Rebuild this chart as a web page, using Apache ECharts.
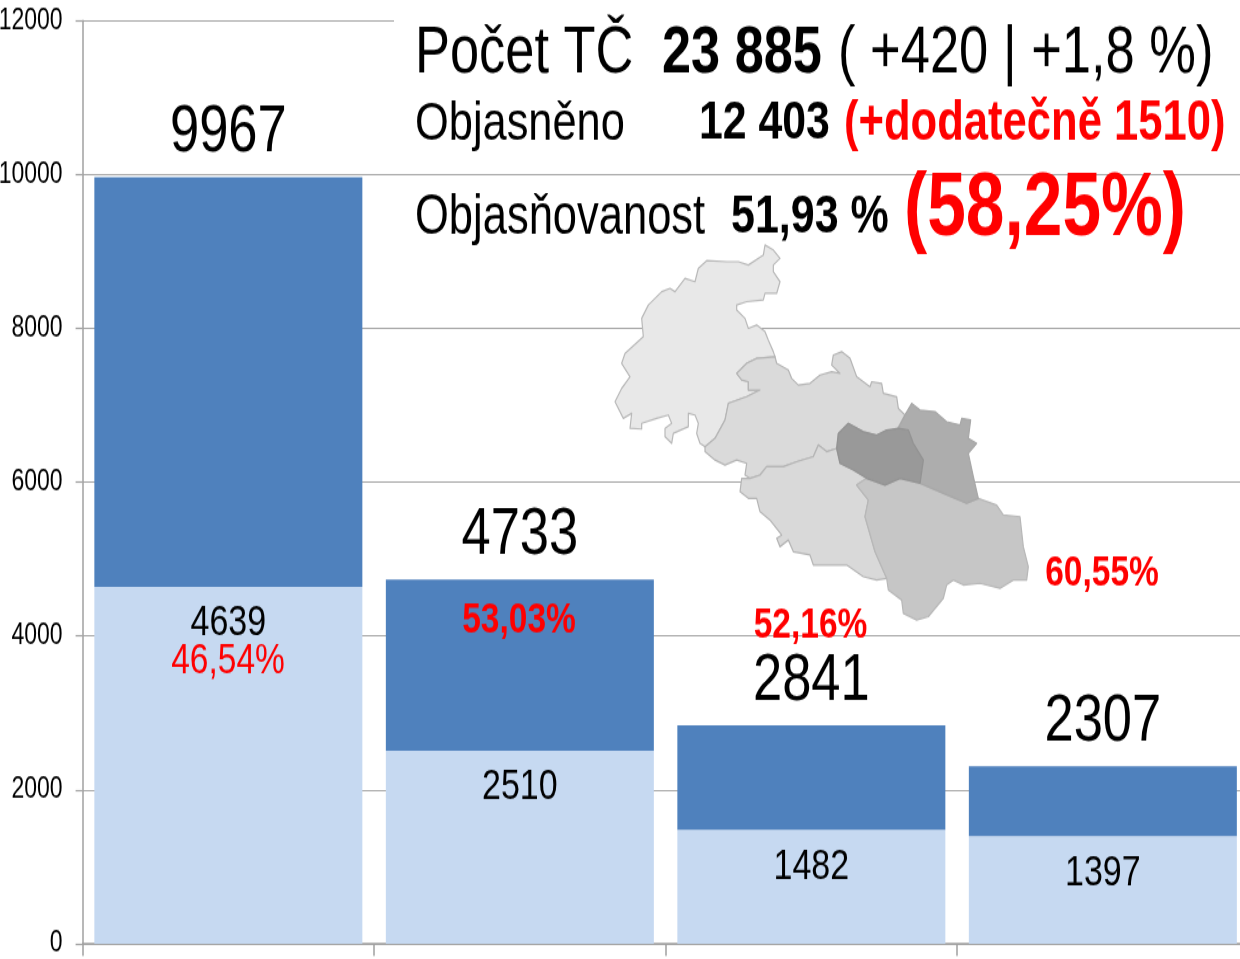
<!DOCTYPE html>
<html><head><meta charset="utf-8">
<style>html,body{margin:0;padding:0;background:#fff;overflow:hidden;width:1240px;height:959px}
#c{width:1240px;height:755px;transform:scaleY(1.2702);transform-origin:0 0}</style>
<script src="https://cdn.jsdelivr.net/npm/echarts@6/dist/echarts.min.js"></script>
</head><body><div id="c"></div>
<script>
const categories = ['1', '2', '3', '4'];
const totals = [9967, 4733, 2841, 2307];
const explained = [4639, 2510, 1482, 1397];
const unexplained = [5328, 2223, 1359, 910];
const rates = ['46,54%', '53,03%', '52,16%', '60,55%'];
const yTicks = { min: 0, max: 12000, step: 2000 };

const S = 959 / 755;
const SANS = '"Liberation Sans",Arial,sans-serif';
const z = (pts) => pts.map(p => [600 + p[0] / 3, (230 + p[1] / 3) / S]);
const regionA = [[495,45],[520,60],[540,85],[520,105],[520,125],[540,155],[530,190],[495,190],[490,210],[440,215],[410,225],[410,240],[435,265],[445,295],[470,285],[495,305],[505,330],[520,365],[525,380],[470,385],[440,400],[410,430],[425,450],[445,455],[445,480],[480,480],[440,500],[385,520],[375,570],[345,625],[315,650],[300,640],[290,610],[295,580],[285,555],[265,550],[265,590],[220,610],[215,640],[195,620],[195,595],[215,580],[205,555],[170,565],[125,580],[125,597],[90,595],[95,550],[70,565],[45,515],[65,475],[90,440],[65,400],[75,370],[130,320],[125,265],[145,225],[185,185],[210,175],[225,185],[255,145],[285,155],[295,115],[320,92],[380,95],[415,95],[445,105],[490,75]];
const regionB = [[525,380],[530,400],[565,420],[575,445],[595,465],[630,460],[660,435],[695,425],[720,430],[695,405],[700,375],[725,365],[750,385],[770,440],[810,470],[815,455],[845,460],[850,490],[890,500],[895,535],[915,555],[890,600],[860,600],[830,615],[790,605],[745,580],[715,610],[710,655],[680,665],[655,645],[640,680],[590,695],[550,710],[500,710],[480,735],[450,745],[435,735],[440,700],[410,690],[375,705],[345,690],[315,665],[315,650],[345,625],[375,570],[385,520],[440,500],[480,480],[445,480],[445,455],[425,450],[410,430],[440,400],[470,385]];
const regionC = [[450,745],[480,735],[500,710],[550,710],[590,695],[640,680],[655,645],[680,665],[710,655],[720,700],[760,720],[800,745],[770,765],[805,810],[795,860],[825,965],[860,1045],[830,1050],[790,1040],[740,1005],[640,1005],[630,975],[580,965],[565,930],[540,950],[530,925],[545,915],[510,870],[480,845],[470,805],[445,805],[420,785],[425,745]];
const regionD = [[770,765],[800,745],[855,765],[900,745],[960,760],[1030,790],[1100,820],[1135,805],[1190,825],[1210,855],[1260,860],[1270,950],[1285,1010],[1280,1050],[1240,1050],[1200,1075],[1140,1060],[1090,1065],[1060,1050],[1040,1065],[1030,1105],[985,1160],[950,1170],[910,1150],[905,1110],[865,1080],[860,1045],[825,965],[795,860],[805,810]];
const regionE = [[935,520],[960,540],[1005,545],[1040,575],[1080,585],[1085,565],[1112,570],[1105,625],[1130,640],[1105,670],[1120,740],[1135,805],[1100,820],[1030,790],[960,760],[970,690],[940,640],[925,600],[895,595],[915,555]];
const regionF = [[745,580],[790,605],[830,615],[860,600],[895,595],[925,600],[940,640],[970,690],[960,760],[900,745],[855,765],[800,745],[760,720],[720,700],[710,655],[715,610]];

const poly = (pts, fill, stroke) => ({type:'polygon', shape:{points:z(pts)}, style:{fill, stroke, lineWidth:1.2, lineJoin:'round'}, silent:true});
const txt = (s, x, y, size, color, bold, align) => ({type:'text', x, y:y/S, silent:true, style:{text:s, fill:color, font:(bold?'bold ':'') + size + 'px ' + SANS, textAlign:align||'left', textVerticalAlign:'middle'}});

const chart = echarts.init(document.getElementById('c'), null, {renderer:'canvas', width:1240, height:755});
chart.setOption({
  animation:false,
  backgroundColor:'#fff',
  grid:{left:82.6, top:20.7/S, width:1166, height:923/S, containLabel:false, outerBoundsMode:'none'},
  xAxis:{type:'category', data:categories, boundaryGap:true,
    axisLine:{lineStyle:{color:'#a0a0a0', width:1.5}},
    axisTick:{show:true, length:12/S, lineStyle:{color:'#a0a0a0', width:1.5}},
    axisLabel:{show:false}},
  yAxis:{type:'value', min:yTicks.min, max:yTicks.max, interval:yTicks.step,
    axisLine:{show:true, lineStyle:{color:'#a0a0a0', width:1.5}},
    axisTick:{show:true, length:7, lineStyle:{color:'#a0a0a0', width:1.2}},
    splitLine:{lineStyle:{color:'#a6a6a6', width:1.2}},
    axisLabel:{color:'#000', fontSize:23, fontFamily:SANS, margin:20, padding:[3,0,0,0], formatter:v => String(v)}},
  series:[
    {type:'bar', name:'Objasněno', stack:'a', data:explained, barWidth:268,
     itemStyle:{color:'#c6d9f1'},
     label:{show:true, position:'insideTop', distance:12, color:'#000', fontSize:34, fontFamily:SANS}},
    {type:'bar', name:'Neobjasněno', stack:'a', data:unexplained, barWidth:268,
     itemStyle:{color:'#4f81bd'},
     label:{show:true, position:'top', distance:8, color:'#000', fontSize:52.5, fontFamily:SANS,
       formatter:p => totals[p.dataIndex]}}
  ],
  graphic:{elements:[
    {type:'rect', shape:{x:394, y:17/S, width:846, height:7/S}, style:{fill:'#fff'}, z:5, silent:true},
    poly(regionA,'#e8e8e8','#b9b9b9'),
    poly(regionB,'#dadada','#b5b5b5'),
    poly(regionC,'#d9d9d9','#b5b5b5'),
    poly(regionD,'#c6c6c6','#b8b8b8'),
    poly(regionE,'#adadad','#a8a8a8'),
    poly(regionF,'#999999','#939393'),
    txt(rates[0], 228, 661.5, 33.5, '#ff0000', false, 'center'),
    txt(rates[1], 519, 620.5, 33.5, '#ff0000', true, 'center'),
    txt(rates[2], 810.5, 625.5, 33.5, '#ff0000', true, 'center'),
    txt(rates[3], 1102, 573.5, 33.5, '#ff0000', true, 'center'),
    txt('Počet TČ', 415, 54, 52.4, '#000', false),
    txt('23 885', 662, 54, 52.3, '#000', true),
    txt('( +420 | +1,8 %)', 838, 54, 52.5, '#000', false),
    txt('Objasněno', 415, 124, 43.4, '#000', false),
    txt('12 403', 699, 124, 42.8, '#000', true),
    txt('(+dodatečně 1510)', 844, 124, 43.6, '#ff0000', true),
    txt('Objasňovanost', 415, 218, 43.5, '#000', false),
    txt('51,93 %', 731, 218, 43, '#000', true),
    txt('(58,25%)', 904, 210, 69.5, '#ff0000', true)
  ].map(e => Object.assign({z:10}, e))}
});
</script></body></html>
